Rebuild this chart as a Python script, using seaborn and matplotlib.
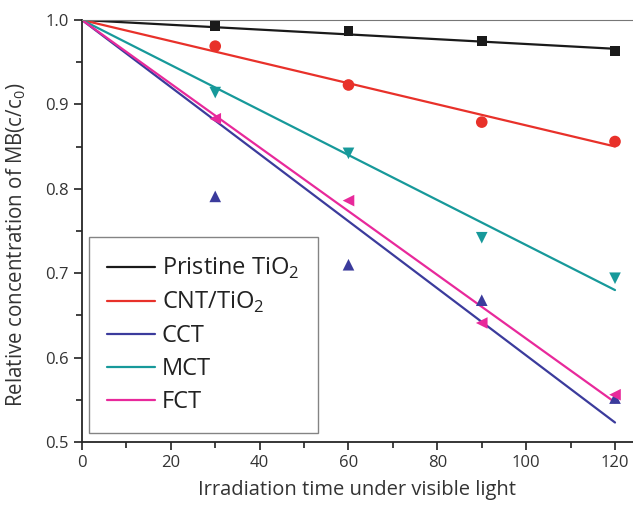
import numpy as np
import pandas as pd
import seaborn as sns
import matplotlib
matplotlib.use('Agg')
import matplotlib.pyplot as plt

# data
time = [0, 30, 60, 90, 120]
pristine = [1.0, 0.993, 0.987, 0.975, 0.963]
cnt = [1.0, 0.969, 0.923, 0.879, 0.856]
cct = [1.0, 0.791, 0.710, 0.668, 0.552]
mct = [1.0, 0.914, 0.842, 0.742, 0.694]
fct = [1.0, 0.883, 0.786, 0.641, 0.556]

names = ['Pristine TiO$_\\mathregular{2}$', 'CNT/TiO$_\\mathregular{2}$', 'CCT', 'MCT', 'FCT']
series = [pristine, cnt, cct, mct, fct]
colors = ['#1a1a1a', '#e8312a', '#3b3b9c', '#17999a', '#e8299b']
markers = ['s', 'o', '^', 'v', '<']
sizes = [50, 70, 70, 70, 70]

sns.set_style('ticks')
plt.rcParams['font.family'] = ['Open Sans', 'DejaVu Sans']
plt.rcParams['mathtext.fontset'] = 'custom'
plt.rcParams['mathtext.rm'] = 'Open Sans'

fig = plt.figure(figsize=(6.33, 5.05), dpi=100)
ax = fig.add_axes([0.1295, 0.1248, 0.8705, 0.8356])

t = np.array(time, dtype=float)
for name, vals, c, m, s in zip(names, series, colors, markers, sizes):
    v = np.array(vals)
    # linear fit forced through (0, 1)
    k = np.sum(t * (v - 1)) / np.sum(t ** 2)
    fit = pd.DataFrame({'t': [0, 120], 'y': [1, 1 + k * 120]})
    sns.lineplot(data=fit, x='t', y='y', color=c, lw=1.6, label=name, ax=ax)
    pts = pd.DataFrame({'t': t[1:], 'y': v[1:]})
    sns.scatterplot(data=pts, x='t', y='y', color=c, marker=m, s=s,
                    edgecolor='none', ax=ax, zorder=3)

ax.set_xlim(0, 124.05)
ax.set_ylim(0.5, 1.0)
ax.set_xticks([0, 20, 40, 60, 80, 100, 120])
ax.set_xticks([10, 30, 50, 70, 90, 110], minor=True)
ax.set_yticks([0.5, 0.6, 0.7, 0.8, 0.9, 1.0])
ax.set_yticks([0.55, 0.65, 0.75, 0.85, 0.95], minor=True)
ax.tick_params(which='both', direction='out', labelsize=12, colors='#333333', width=1.3)
ax.tick_params(which='major', length=6)
ax.tick_params(which='minor', length=4)
ax.spines['right'].set_visible(False)
ax.spines['top'].set_color('#777777')
ax.spines['left'].set_linewidth(1.3)
ax.spines['bottom'].set_linewidth(1.3)
ax.set_xlabel('Irradiation time under visible light', fontsize=14.5, color='#333333', labelpad=6)
ax.set_ylabel('Relative concentration of MB(c/c$_\\mathregular{0}$)', fontsize=14.8, color='#333333')
ax.yaxis.set_label_coords(-0.098, 0.467)

leg = ax.legend(loc='lower left', bbox_to_anchor=(0.012, 0.021), borderaxespad=0,
                fontsize=17, frameon=True, fancybox=False, handlelength=2.0,
                labelspacing=0.38, handletextpad=0.3, borderpad=0.8)
leg.get_frame().set_edgecolor('#666666')
leg.get_frame().set_linewidth(1.0)
for txt in leg.get_texts():
    txt.set_color('#222222')

fig.savefig('out.png', dpi=100)
